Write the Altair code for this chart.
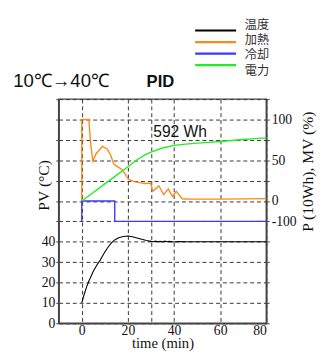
import altair as alt
import pandas as pd

# ---- data ----
series_names = ["温度", "加熱", "冷却", "電力"]
series_colors = ["#000000", "#f98a1c", "#3a3aff", "#22ee22"]

# temperature PV (°C)
temp_t = [0, 1, 2, 3, 4, 5, 6, 7, 8, 9, 10, 11, 12, 13, 14, 15, 16, 18, 20, 22, 24, 26, 28, 30,
          31, 32, 33, 34, 35, 36, 37, 38, 40, 42, 45, 50, 60, 70, 80]
temp_v = [10, 14, 17.5, 20.5, 23, 25.5, 27.5, 29.4, 31, 33, 35, 36.7, 38.3, 39.6, 40.7, 41.4, 42, 42.6,
          42.8, 42.5, 41.8, 41.2, 40.6, 40.2, 40, 40.3, 40, 40.2, 39.9, 40.3, 40, 40.2, 39.9, 40.1,
          40, 40, 40, 40, 40]

# heating MV (%)
heat_t = [0, 0, 3.1, 3.8, 4.8, 6.2, 9, 11.1, 12.5, 13.9, 15.3, 17.4, 18.8, 20.2, 22.7, 25, 27.5, 29.8,
          30.9, 33.4, 35.5, 37.5, 39.3, 41, 43.5, 46, 50, 60, 70, 80]
heat_v = [0, 100, 100, 72, 49, 58, 67, 63.5, 56.4, 45.2, 42.5, 38.6, 33, 26.7, 23.8, 22.5, 21.5, 21.9,
          11.9, 18.7, 8, 14.8, 5.6, 11.9, 2.8, 2.5, 2.3, 2.3, 2.6, 3]

# cooling MV (%)
cool_t = [0, 0, 14.3, 14.3, 80]
cool_v = [-100, 0, 0, -100, -100]

# power P (10Wh)
pow_t = [0, 5, 10, 15, 20, 23, 25, 28, 30, 35, 40, 45, 50, 55, 60, 65, 70, 75, 80]
pow_v = [0, 10.5, 21, 31.5, 42, 48.5, 52.5, 57.5, 60, 65, 68.3, 69.8, 71, 72, 73, 74.2, 75.5, 76.5, 77.5]

# annotations
ann_text = ["10℃→40℃", "PID", "592 Wh"]
ann_t = [-29.7, 28.1, 31.0]
ann_v = [116.0, 116.0, 91.3]

x_label_values = [0, 20, 30, 40, 60, 80]
y_grid_values = list(range(0, 111, 10))

# ---- tables ----
rows = []
for name, ts, vs in [("温度", temp_t, temp_v), ("加熱", heat_t, heat_v),
                     ("冷却", cool_t, cool_v), ("電力", pow_t, pow_v)]:
    for i, (t, v) in enumerate(zip(ts, vs)):
        rows.append({"series": name, "t": t, "v": v, "i": i})
df = pd.DataFrame(rows)

ann_df = pd.DataFrame({"text": ann_text, "t": ann_t, "v": ann_v})
leg_df = pd.DataFrame({"series": series_names})

serif = "Liberation Serif"
xscale = alt.Scale(domain=[-10, 80], nice=False, zero=False)
yscale = alt.Scale(domain=[0, 110], nice=False, zero=False)
cscale = alt.Scale(domain=series_names, range=series_colors)

xaxis = alt.Axis(
    values=x_label_values, labelExpr="datum.value == 30 ? '' : datum.label",
    grid=True, gridDash=[4, 3], gridColor="#333", gridWidth=1, gridOpacity=1,
    ticks=False, labelFont=serif, labelFontSize=14, labelColor="#111", labelPadding=1,
    title="time (min)", titleFont=serif, titleFontSize=15, titleFontWeight="normal",
    titleColor="#111", titleY=25, titleBaseline="alphabetic",
    domainColor="#444", domainWidth=1.5,
)

base = alt.Chart(df).transform_calculate(
    y="datum.series == '温度' ? datum.v : (datum.series == '冷却' ? 60 + datum.v / 10 : 60 + datum.v / 2.5)"
)

left = base.transform_filter(alt.datum.series == "温度").mark_line(strokeWidth=1.1).encode(
    x=alt.X("t:Q", scale=xscale, axis=xaxis),
    y=alt.Y("y:Q", scale=yscale, axis=alt.Axis(
        values=y_grid_values, labelExpr="datum.value <= 40 ? datum.label : ''",
        grid=True, gridDash=[4, 3], gridColor="#333", gridWidth=1, gridOpacity=1,
        tickSize=3, tickColor="#444", labelFont=serif, labelFontSize=14, labelColor="#111",
        labelPadding=1, title="PV (°C)", titleFont=serif, titleFontSize=16,
        titleFontWeight="normal", titleColor="#111", titleAngle=270, titleX=-15, titleY=88,
        titleAlign="center", titleBaseline="middle", domainColor="#444", domainWidth=1.5,
    )),
    color=alt.Color("series:N", scale=cscale, legend=None),
    order="i:Q",
)

right_lines = base.transform_filter(alt.datum.series != "温度").mark_line(strokeWidth=1.4).encode(
    x=alt.X("t:Q", scale=xscale),
    y=alt.Y("y:Q", scale=yscale, axis=alt.Axis(
        orient="right", values=y_grid_values,
        labelExpr="datum.value == 50 ? '-100' : datum.value == 60 ? '0' : datum.value == 80 ? '50' : datum.value == 100 ? '100' : ''",
        grid=False, tickSize=3, tickColor="#444", labelFont=serif, labelFontSize=14,
        labelColor="#111", labelPadding=2, title="P (10Wh), MV (%)", titleFont=serif,
        titleFontSize=16, titleFontWeight="normal", titleColor="#111", titleAngle=270,
        titleX=42, titleY=74, titleAlign="center", titleBaseline="middle",
        domainColor="#444", domainWidth=1.5,
    )),
    color=alt.Color("series:N", scale=cscale, legend=None),
    detail="series:N",
    order="i:Q",
)

ann_base = alt.Chart(ann_df)
def ann(idx, **kw):
    return ann_base.transform_filter(alt.datum.text == ann_text[idx]).mark_text(
        align="left", baseline="alphabetic", color="#111", **kw
    ).encode(
        x=alt.X("t:Q", scale=xscale),
        y=alt.Y("v:Q", scale=yscale, axis=None),
        text="text:N",
    )

title_txt = ann(0, font="Liberation Sans", fontSize=19)
pid_txt = ann(1, font="Liberation Sans", fontSize=17, fontWeight="bold")
wh_txt = ann(2, font="Liberation Sans", fontSize=16)

# manual legend placed above the plot area
leg_y = alt.Y("series:N", axis=None, sort=series_names,
              scale=alt.Scale(domain=series_names, range=[-76.3, -28.9], padding=0))
leg_lines = alt.Chart(leg_df).mark_rule(strokeWidth=2.2).encode(
    x=alt.value(140), x2=alt.value(182), y=leg_y,
    color=alt.Color("series:N", scale=cscale, legend=None),
)
leg_text = alt.Chart(leg_df).mark_text(
    align="left", baseline="middle", font="Noto Sans CJK JP", fontSize=12.5, color="#333"
).encode(x=alt.value(191), y=leg_y, text="series:N")

chart = alt.layer(left, right_lines, title_txt, pid_txt, wh_txt, leg_lines, leg_text).resolve_scale(
    y="independent"
).properties(
    width=213, height=230,
    autosize=alt.AutoSizeParams(type="none"),
    padding={"left": 52, "top": 89, "right": 52, "bottom": 26},
).configure_view(
    stroke="#444", strokeWidth=1.5
)

chart.save("out.html", embed_options={"renderer": "svg", "actions": False})
